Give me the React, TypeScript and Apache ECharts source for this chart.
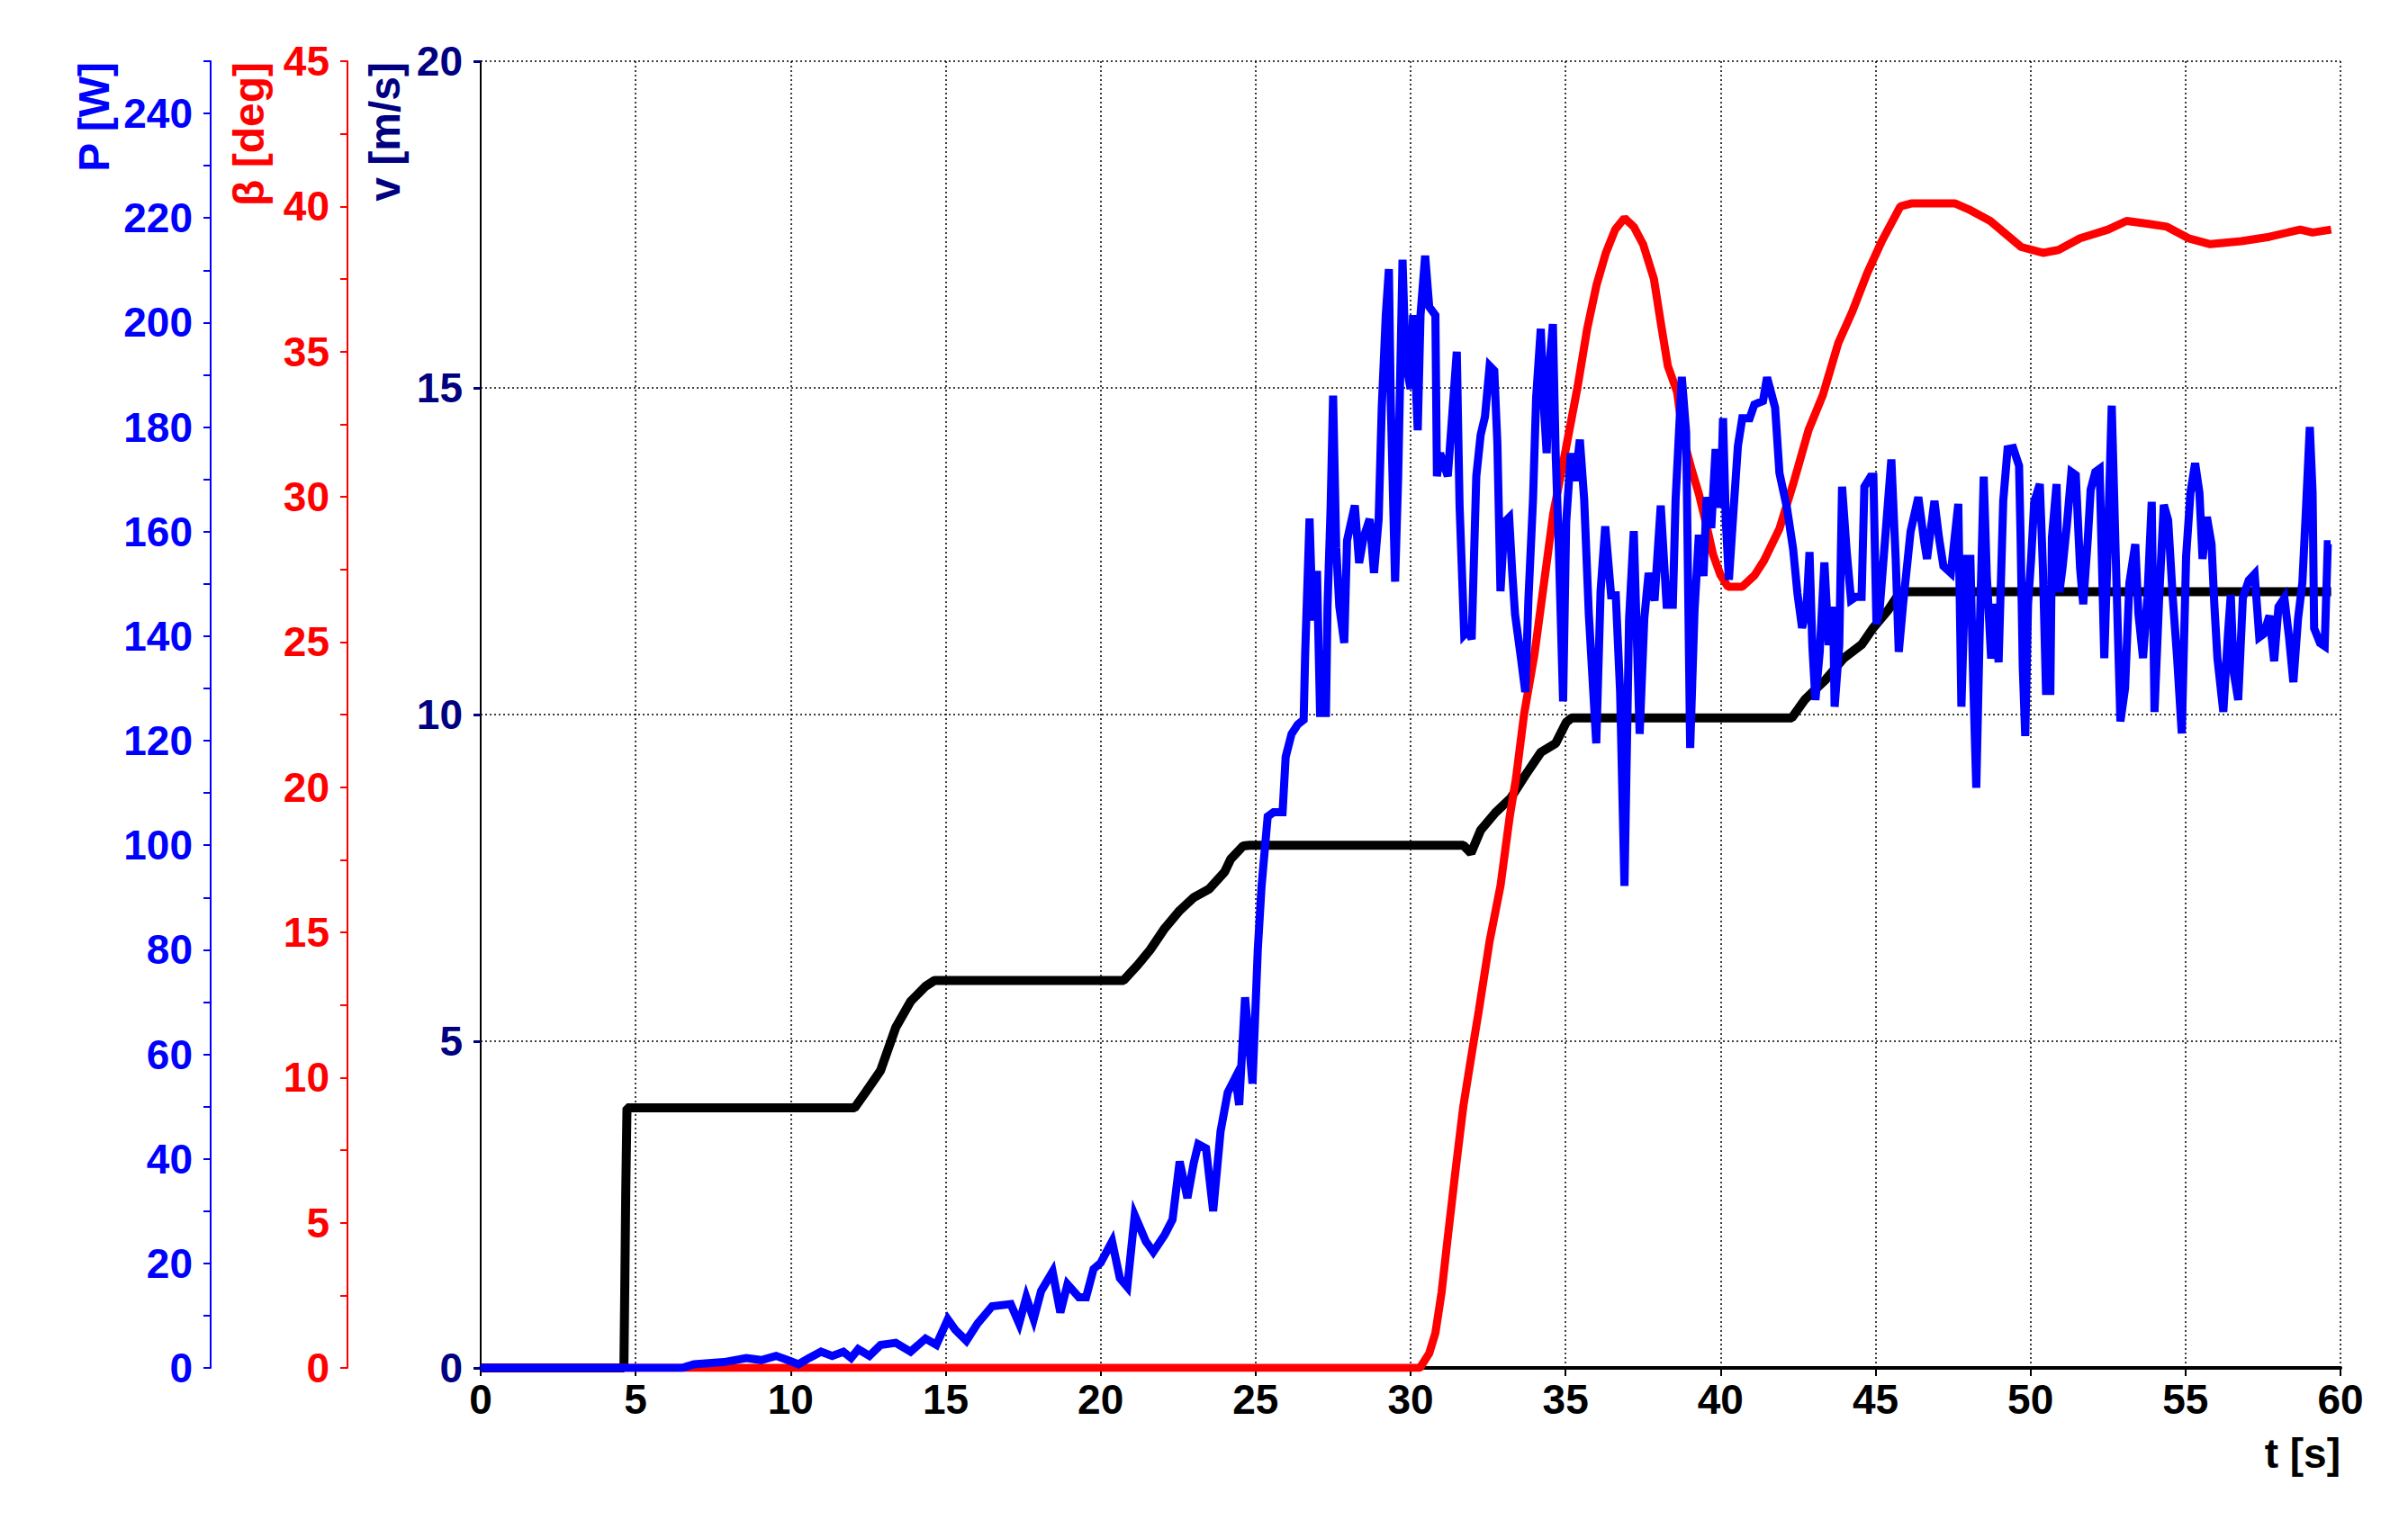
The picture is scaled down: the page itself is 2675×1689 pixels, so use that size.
import React, { useEffect, useRef } from "react";
import * as echarts from "echarts";

// ---- data ----
// wind speed v [m/s] (black)
const speedTime = [0, 4.62, 4.65, 4.68, 4.72, 12.06, 12.42, 12.9, 13.39, 13.87, 14.35, 14.64, 20.74, 21.2, 21.6, 22.07, 22.55, 23.0, 23.5, 24.0, 24.2, 24.6, 24.8, 31.7, 31.95, 32.26, 32.74, 33.23, 33.7, 34.2, 34.68, 35.02, 35.2, 42.3, 42.72, 43.4, 43.97, 44.55, 44.93, 45.41, 45.8, 59.7];
const speedValues = [0, 0, 1.3, 2.7, 3.98, 3.98, 4.22, 4.55, 5.21, 5.61, 5.84, 5.93, 5.93, 6.17, 6.4, 6.73, 7.0, 7.2, 7.33, 7.59, 7.79, 7.99, 8.0, 8.0, 7.88, 8.23, 8.5, 8.72, 9.07, 9.42, 9.56, 9.88, 9.95, 9.95, 10.23, 10.54, 10.86, 11.07, 11.33, 11.6, 11.88, 11.88];

// pitch angle beta [deg] (red)
const pitchTime = [0, 30.3, 30.6, 30.8, 31.0, 31.2, 31.45, 31.7, 32.0, 32.2, 32.55, 32.9, 33.2, 33.4, 33.66, 34.0, 34.3, 34.6, 35.0, 35.39, 35.7, 36.0, 36.3, 36.6, 36.9, 37.2, 37.5, 37.85, 38.1, 38.3, 38.6, 38.8, 39.05, 39.3, 39.55, 39.76, 40.0, 40.24, 40.7, 41.1, 41.4, 41.9, 42.36, 42.84, 43.3, 43.8, 44.26, 44.73, 45.2, 45.8, 46.15, 47.57, 48.0, 48.7, 49.2, 49.7, 50.4, 50.9, 51.6, 52.5, 53.1, 53.8, 54.4, 55.1, 55.8, 56.8, 57.7, 58.7, 59.1, 59.7];
const pitchValues = [0, 0, 0.5, 1.2, 2.6, 4.5, 6.8, 9.0, 11.0, 12.3, 14.7, 16.6, 19.0, 20.3, 22.5, 24.6, 27.0, 29.4, 31.6, 33.8, 35.8, 37.3, 38.4, 39.2, 39.6, 39.3, 38.7, 37.5, 35.8, 34.5, 33.6, 32.0, 31.0, 30.1, 29.0, 28.0, 27.3, 26.9, 26.9, 27.3, 27.8, 28.9, 30.5, 32.3, 33.5, 35.3, 36.4, 37.7, 38.8, 40.0, 40.1, 40.1, 39.9, 39.5, 39.05, 38.6, 38.4, 38.5, 38.9, 39.2, 39.5, 39.4, 39.3, 38.9, 38.7, 38.8, 38.95, 39.2, 39.1, 39.2];

// power P [W] (blue)
const powerTime = [
  0, 6.5, 6.88, 7.84, 8.57, 9.05, 9.53, 9.9, 10.25, 10.6, 10.98, 11.34, 11.7, 11.95, 12.18, 12.54, 12.9, 13.39, 13.87, 14.35, 14.7,
  15.07, 15.31, 15.67, 16.03, 16.5, 17.1, 17.37, 17.6, 17.84, 18.08, 18.45, 18.7, 18.93, 19.3, 19.53, 19.77, 20.0, 20.37, 20.62, 20.86,
  21.1, 21.46, 21.7, 22.07, 22.32, 22.55, 22.8, 23.0, 23.15, 23.4, 23.63, 23.87, 24.1, 24.35, 24.47, 24.66, 24.9, 25.07,
  25.19, 25.39, 25.58, 25.87, 25.97, 26.16, 26.36, 26.55, 26.6, 26.74, 26.84, 26.98, 27.08, 27.27, 27.32, 27.42, 27.5, 27.6, 27.7, 27.86,
  27.95, 28.2, 28.34, 28.48, 28.68, 28.82, 28.97, 29.07, 29.2, 29.3, 29.36, 29.5, 29.6, 29.74, 29.84, 30.0, 30.08, 30.23, 30.32, 30.47,
  30.6, 30.8, 30.85, 30.95, 31.2, 31.34, 31.49, 31.58, 31.73, 31.87, 31.97, 32.12, 32.26, 32.4, 32.55, 32.7, 32.8, 32.9, 33.03, 33.18,
  33.28, 33.37, 33.57, 33.7, 33.8, 33.95, 34.05, 34.2, 34.3, 34.39, 34.49, 34.59, 34.68, 34.78, 34.92, 35.02, 35.17, 35.31, 35.46, 35.6,
  35.75, 35.99, 36.13, 36.28, 36.47, 36.62, 36.76, 36.9, 37.05, 37.2, 37.39, 37.54, 37.68, 37.87, 38.07, 38.26, 38.46, 38.55, 38.75, 38.89,
  39.02, 39.16, 39.3, 39.45, 39.55, 39.7, 39.84, 40.0, 40.08, 40.17, 40.27, 40.41, 40.56, 40.7, 40.94, 41.09, 41.37, 41.5, 41.76, 41.9,
  42.14, 42.34, 42.48, 42.63, 42.77, 42.87, 42.96, 43.06, 43.2, 43.35, 43.49, 43.63, 43.68, 43.83, 43.92, 44.07, 44.21, 44.36, 44.55, 44.64,
  44.84, 44.93, 45.03, 45.13, 45.32, 45.51, 45.65, 45.75, 45.89, 46.04, 46.13, 46.38, 46.57, 46.66, 46.9, 47.05, 47.19, 47.43, 47.67, 47.77,
  47.91, 48.06, 48.15, 48.25, 48.35, 48.49, 48.59, 48.73, 48.87, 48.97, 49.12, 49.26, 49.44, 49.63, 49.68, 49.75, 49.83, 49.92, 50.02, 50.12,
  50.3, 50.4, 50.5, 50.64, 50.69, 50.84, 50.93, 51.03, 51.17, 51.32, 51.46, 51.6, 51.7, 51.85, 51.94, 52.09, 52.23, 52.38, 52.47, 52.62,
  52.76, 52.9, 53.05, 53.19, 53.38, 53.48, 53.63, 53.77, 53.91, 54.0, 54.15, 54.3, 54.44, 54.59, 54.73, 54.88, 55.02, 55.16, 55.31, 55.45,
  55.55, 55.69, 55.84, 55.93, 56.03, 56.22, 56.37, 56.46, 56.56, 56.7, 56.85, 57.04, 57.23, 57.38, 57.52, 57.71, 57.86, 58.0, 58.19, 58.34,
  58.48, 58.63, 58.77, 58.87, 59.01, 59.1, 59.15, 59.34, 59.49, 59.59, 59.68
];
const powerValues = [
  0, 0, 0.7, 1.1, 1.9, 1.5, 2.3, 1.5, 0.7, 1.9, 3.1, 2.3, 3.1, 1.9, 3.6, 2.3, 4.4, 4.8, 3.1, 5.6, 4.4,
  9.3, 7.3, 5.2, 8.5, 11.8, 12.2, 8.5, 13.5, 9.3, 14.7, 18.4, 10.6, 16.0, 13.5, 13.5, 18.9, 20.1, 24.2, 17.2, 15.5,
  29.2, 24.2, 22.2, 25.5, 28.4, 39.5, 32.5, 39.1, 42.8, 42.0, 30.0, 45.3, 52.7, 55.6, 50.3, 70.9, 54.4, 80,
  92, 105.5, 106.3, 106.3, 116.9, 121.3, 123.1, 124, 136.8, 162.5, 143, 152.5, 125.3, 125.3, 145.7, 164.6, 186, 157, 145.7, 138.7,
  158.3, 165, 154, 158.8, 162.4, 152.1, 162.4, 183.8, 201.4, 210.2, 184.7, 150.4, 170.6, 212, 192.6, 187.3, 201.4, 179.4, 201.4, 212.8,
  203, 201.4, 170.6, 175, 170.6, 182, 194.4, 165, 140.3, 141.2, 139.4, 170.6, 178.5, 182, 191.7, 190.8, 176.8, 148.6, 161.8, 162.7,
  152.1, 144.2, 135.4, 129.3, 146.8, 166.2, 185.6, 198.8, 183.8, 175, 192.6, 199.7, 175, 157.4, 127.5, 161.8, 175, 169.7, 177.6, 166.2,
  144.2, 119.5, 148.6, 161, 147.8, 147.8, 129.3, 92.2, 143.4, 160.1, 121.3, 143.4, 152.1, 146.8, 165, 146, 146, 166.2, 189.6, 179,
  118.6, 144.9, 159.4, 151.5, 166.6, 160.7, 175.8, 164.6, 181.7, 162, 150.8, 163.3, 176.4, 181.7, 181.7, 184.3, 185, 189.5, 183.7, 171.2,
  164.6, 156.7, 148.2, 141.6, 144.9, 156.1, 138.3, 127.8, 137, 154.1, 138.3, 145.6, 126.5, 138.3, 168.6, 156.1, 146.9, 147.5, 147.5, 168.6,
  170.5, 170.5, 142.3, 144.9, 159.4, 173.8, 154.8, 137, 146.2, 154.8, 160, 166.6, 158.1, 154.8, 165.9, 158.7, 153.4, 152.1, 165.3, 126.5,
  154.8, 154.8, 131.8, 111, 138.3, 170.5, 151.5, 135.7, 146.2, 135, 165.9, 175.8, 176, 172.6, 158.8, 134, 120.9, 146.1, 154.8, 165.7,
  169.1, 153, 129.5, 129.5, 158.8, 169.1, 148.4, 153, 161.1, 171.4, 170.8, 153, 146.1, 158.8, 168, 171.4, 172, 135.8, 153, 184.1,
  153, 123.7, 130, 150.2, 157.6, 144.4, 135.8, 147.3, 165.7, 125.5, 147.3, 165.1, 162.2, 147.3, 135.8, 121.4, 155.3, 167.4, 173.1, 167.4,
  154.8, 162.8, 157.6, 146.1, 135.8, 125.5, 140.4, 147.9, 132.9, 127.8, 147.3, 150.7, 151.9, 139.8, 140.4, 143.9, 135.2, 145.6, 147.3, 139.8,
  131.2, 143.3, 150.2, 162.2, 180, 167.4, 141.5, 138.7, 138.1, 157.6, 157.6
];

const FONT = "'Liberation Sans', Arial, sans-serif";
const FS = 46;

const zip = (xs: number[], ys: number[]) => xs.map((x, i) => [x, ys[i]]);
const isMult = (v: number, m: number) => Math.abs(v / m - Math.round(v / m)) < 1e-6;

export default function App() {
  const ref = useRef<HTMLDivElement>(null);
  useEffect(() => {
    if (!ref.current) return;
    const chart = echarts.init(ref.current, undefined, { renderer: "svg" });
    const labelBase = { fontFamily: FONT, fontWeight: "bold" as const, fontSize: FS };
    chart.setOption({
      animation: false,
      backgroundColor: "#ffffff",
      grid: { left: 534, right: 75, top: 68, bottom: 169, containLabel: false },
      xAxis: {
        type: "value",
        min: 0,
        max: 60,
        interval: 5,
        axisLine: { show: true, onZero: false, lineStyle: { color: "#000", width: 4 } },
        axisTick: { show: true, length: 9, lineStyle: { color: "#000", width: 2 } },
        axisLabel: { ...labelBase, color: "#000", margin: 12 },
        splitLine: { show: true, lineStyle: { color: "#000", width: 1.5, type: [2, 3] } },
      },
      yAxis: [
        {
          type: "value",
          position: "left",
          min: 0,
          max: 20,
          interval: 5,
          offset: 0,
          axisLine: { show: true, onZero: false, lineStyle: { color: "#000", width: 2 } },
          axisTick: { show: true, length: 8, lineStyle: { color: "#000080", width: 3 } },
          axisLabel: { ...labelBase, color: "#000080", margin: 20 },
          splitLine: { show: true, lineStyle: { color: "#000", width: 1.5, type: [2, 3] } },
        },
        {
          type: "value",
          position: "left",
          min: 0,
          max: 45,
          interval: 2.5,
          offset: 148,
          axisLine: { show: true, onZero: false, lineStyle: { color: "#ff0000", width: 2 } },
          axisTick: { show: true, length: 8, lineStyle: { color: "#ff0000", width: 2 } },
          axisLabel: {
            ...labelBase,
            color: "#ff0000",
            margin: 20,
            formatter: (v: number) => (isMult(v, 5) ? String(Math.round(v)) : ""),
          },
          splitLine: { show: false },
        },
        {
          type: "value",
          position: "left",
          min: 0,
          max: 250,
          interval: 10,
          offset: 300,
          axisLine: { show: true, onZero: false, lineStyle: { color: "#0000ff", width: 2 } },
          axisTick: { show: true, length: 8, lineStyle: { color: "#0000ff", width: 2 } },
          axisLabel: {
            ...labelBase,
            color: "#0000ff",
            margin: 20,
            formatter: (v: number) => (isMult(v, 20) ? String(Math.round(v)) : ""),
          },
          splitLine: { show: false },
        },
      ],
      graphic: [
        {
          type: "text",
          x: 104,
          y: 69,
          rotation: Math.PI / 2,
          style: { text: "P [W]", fill: "#0000ff", font: `bold 48px ${FONT}`, textAlign: "right", textVerticalAlign: "middle" },
        },
        {
          type: "text",
          x: 276,
          y: 69,
          rotation: Math.PI / 2,
          style: { text: "β [deg]", fill: "#ff0000", font: `bold 48px ${FONT}`, textAlign: "right", textVerticalAlign: "middle" },
        },
        {
          type: "text",
          x: 427,
          y: 69,
          rotation: Math.PI / 2,
          style: { text: "v [m/s]", fill: "#000080", font: `bold 48px ${FONT}`, textAlign: "right", textVerticalAlign: "middle" },
        },
        {
          type: "text",
          x: 2600,
          y: 1615,
          style: { text: "t [s]", fill: "#000", font: `bold 46px ${FONT}`, textAlign: "right", textVerticalAlign: "middle" },
        },
      ],
      series: [
        {
          name: "v",
          type: "line",
          yAxisIndex: 0,
          data: zip(speedTime, speedValues),
          showSymbol: false,
          symbol: "none",
          silent: true,
          z: 2,
          lineStyle: { color: "#000", width: 10 },
        },
        {
          name: "beta",
          type: "line",
          yAxisIndex: 1,
          data: zip(pitchTime, pitchValues),
          showSymbol: false,
          symbol: "none",
          silent: true,
          z: 3,
          lineStyle: { color: "#ff0000", width: 9 },
        },
        {
          name: "P",
          type: "line",
          yAxisIndex: 2,
          data: zip(powerTime, powerValues),
          showSymbol: false,
          symbol: "none",
          silent: true,
          z: 4,
          lineStyle: { color: "#0000ff", width: 9, join: "miter" },
        },
      ],
    });
    return () => chart.dispose();
  }, []);
  return (
    <div
      ref={ref}
      style={{ position: "fixed", left: 0, top: 0, width: 2675, height: 1689, background: "#fff" }}
    />
  );
}
